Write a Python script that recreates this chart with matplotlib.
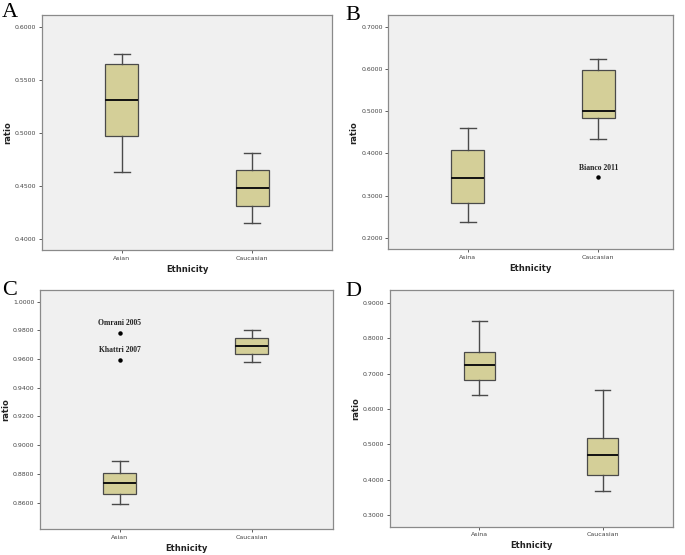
import matplotlib
matplotlib.use("Agg")
import matplotlib.pyplot as plt

# ---------- DATA ----------
# each box: whisker_low, q1, median, q3, whisker_high

a_groups = ["Asian", "Caucasian"]
a_asian = [0.4630, 0.4972, 0.5313, 0.5649, 0.5753]
a_cauc = [0.4146, 0.4310, 0.4481, 0.4646, 0.4813]

b_groups = ["Asina", "Caucasian"]
b_asina = [0.2370, 0.2820, 0.3412, 0.4082, 0.4610]
b_cauc = [0.4350, 0.4847, 0.5013, 0.5967, 0.6243]
b_outliers = [0.3435]
b_outlier_names = ["Bianco 2011"]

c_groups = ["Asian", "Caucasian"]
c_asian = [0.8588, 0.8660, 0.8734, 0.8808, 0.8887]
c_cauc = [0.9580, 0.9635, 0.9693, 0.9749, 0.9800]
c_outliers = [0.9782, 0.9596]
c_outlier_names = ["Omrani 2005", "Khattri 2007"]

d_groups = ["Asina", "Caucasian"]
d_asina = [0.6387, 0.6811, 0.7236, 0.7604, 0.8490]
d_cauc = [0.3680, 0.4123, 0.4698, 0.5170, 0.6538]

BOX_FILL = "#D4CF98"
EDGE = "#4A4A4A"
BG = "#F0F0F0"
W, H = 685, 555


def make_stats(vals):
    lo, q1, med, q3, hi = vals
    return {"whislo": lo, "q1": q1, "med": med, "q3": q3, "whishi": hi,
            "fliers": []}


def draw_panel(rect, letter, letter_xy, groups, boxes, ylim, yticks, xlim,
               outliers=None, outlier_names=None, outlier_group=0):
    ax = fig.add_axes(rect)
    ax.set_facecolor(BG)
    stats = [make_stats(b) for b in boxes]
    ax.bxp(stats, positions=[1, 2], widths=0.25, patch_artist=True,
           showfliers=False,
           boxprops=dict(facecolor=BOX_FILL, edgecolor=EDGE, linewidth=0.9),
           medianprops=dict(color="#111111", linewidth=1.4),
           whiskerprops=dict(color=EDGE, linewidth=1.0),
           capprops=dict(color=EDGE, linewidth=1.0),
           capwidths=0.12)
    if outliers:
        xs = [outlier_group + 1] * len(outliers)
        ax.plot(xs, outliers, "o", color="black", markersize=2.2)
        for y, name in zip(outliers, outlier_names):
            ax.annotate(name, (outlier_group + 1, y), xytext=(0, 4),
                        textcoords="offset points", ha="center", va="bottom",
                        fontsize=5.5, fontweight="bold",
                        family="Liberation Serif", color="#222222")
    ax.set_xlim(*xlim)
    ax.set_ylim(*ylim)
    ax.set_yticks(yticks)
    ax.set_yticklabels([f"{t:.4f}" for t in yticks])
    ax.set_xticks([1, 2])
    ax.set_xticklabels(groups)
    ax.tick_params(labelsize=4.5, labelcolor="#444444", color="#444444",
                   length=2.5, width=0.6, pad=1.5)
    for s in ax.spines.values():
        s.set_color("#8A8A8A")
        s.set_linewidth(0.9)
    ax.set_xlabel("Ethnicity", fontsize=6, fontweight="bold", color="#222222",
                  labelpad=3)
    ax.set_ylabel("ratio", fontsize=6, fontweight="bold", color="#222222",
                  labelpad=2)
    fig.text(letter_xy[0] / W, 1 - letter_xy[1] / H, letter,
             fontsize=16, family="Liberation Serif", va="baseline", ha="left")
    return ax


fig = plt.figure(figsize=(6.85, 5.55), dpi=100)

draw_panel([0.0613, 0.5495, 0.4234, 0.4234], "A", (2, 17), a_groups,
           [a_asian, a_cauc], (0.3893, 0.6117),
           [0.40, 0.45, 0.50, 0.55, 0.60], (0.389, 2.611))

draw_panel([0.567, 0.5508, 0.4155, 0.4221], "B", (345, 20), b_groups,
           [b_asina, b_cauc], (0.1732, 0.7276),
           [0.2, 0.3, 0.4, 0.5, 0.6, 0.7], (0.392, 2.572),
           b_outliers, b_outlier_names, outlier_group=1)

draw_panel([0.0584, 0.0468, 0.4273, 0.4307], "C", (2, 295), c_groups,
           [c_asian, c_cauc], (0.8416, 1.0081),
           [0.86, 0.88, 0.90, 0.92, 0.94, 0.96, 0.98, 1.00], (0.393, 2.615),
           c_outliers, c_outlier_names, outlier_group=0)

draw_panel([0.569, 0.051, 0.4135, 0.4265], "D", (345, 296), d_groups,
           [d_asina, d_cauc], (0.267, 0.9368),
           [0.3, 0.4, 0.5, 0.6, 0.7, 0.8, 0.9], (0.276, 2.57))

fig.savefig("out.png", dpi=100, facecolor="white")
